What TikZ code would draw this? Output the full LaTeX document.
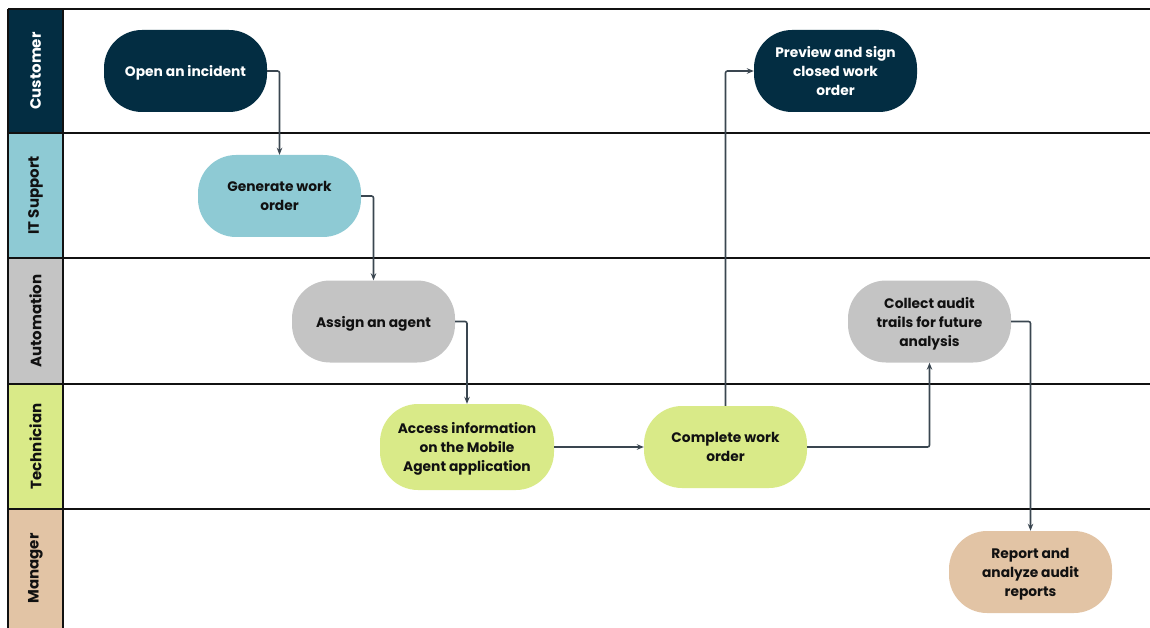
\documentclass[tikz,border=0pt]{standalone}
\usepackage{fontspec}
\setmainfont{Poppins}
\usetikzlibrary{arrows.meta}

\definecolor{custC}{HTML}{032D42}
\definecolor{itC}{HTML}{8ECAD4}
\definecolor{autoC}{HTML}{C4C4C4}
\definecolor{techC}{HTML}{D9EA88}
\definecolor{mgrC}{HTML}{E2C4A5}
\definecolor{flowC}{HTML}{3A4650}
\definecolor{inkC}{HTML}{111111}

\tikzset{
  lanerule/.style={draw=inkC, line width=1.2pt},
  lanelabel/.style={rotate=90, font=\bfseries\fontsize{15}{17}\selectfont, anchor=center},
  stepbox/.style={rectangle, rounded corners=38pt, minimum width=163pt,
    minimum height=82pt, align=center, inner sep=2pt, text depth=0pt,
    font=\bfseries\fontsize{13.8}{19}\selectfont, text=inkC},
  flow/.style={draw=flowC, line width=1.6pt, rounded corners=2pt,
    -{Stealth[length=7pt,width=5.5pt]}}
}

\begin{document}
\begin{tikzpicture}[x=1pt,y=-1pt]
\useasboundingbox (0,0) rectangle (1150,628);

% lane header column
\fill[custC] (8,9) rectangle (63,133);
\fill[itC]   (8,133) rectangle (63,258);
\fill[autoC] (8,258) rectangle (63,384);
\fill[techC] (8,384) rectangle (63,509);
\fill[mgrC]  (8,509) rectangle (63,628);

\node[lanelabel, text=white] (lcust) at (35.5,71)   {Customer};
\node[lanelabel, text=inkC]  (lit)   at (35.5,195.5) {IT Support};
\node[lanelabel, text=inkC]  (lauto) at (35.5,321)  {Automation};
\node[lanelabel, text=inkC]  (ltech) at (35.5,446.5) {Technician};
\node[lanelabel, text=inkC]  (lmgr)  at (35.5,568.5) {Manager};

% lane rules
\foreach \yy in {9,133,258,384,509} {
  \draw[lanerule] (8,\yy) -- (1150,\yy);
}
\draw[lanerule] (8,9) -- (8,628);
\draw[lanerule] (63,9) -- (63,628);

% process steps
\node[stepbox, fill=custC, text=white] (open) at (185.5,71) {Open an incident};
\node[stepbox, fill=itC] (gen) at (279.5,196) {Generate work\\order};
\node[stepbox, fill=autoC] (assign) at (373.5,321.5) {Assign an agent};
\node[stepbox, fill=techC, minimum width=174pt, minimum height=86pt] (access) at (467,447)
  {Access information\\on the Mobile\\Agent application};
\node[stepbox, fill=techC] (complete) at (725.5,447) {Complete work\\order};
\node[stepbox, fill=custC, text=white] (preview) at (835.5,71) {Preview and sign\\closed work\\order};
\node[stepbox, fill=autoC] (collect) at (929.5,321.5) {Collect audit\\trails for future\\analysis};
\node[stepbox, fill=mgrC] (report) at (1030.5,572) {Report and\\analyze audit\\reports};

% flow
\draw[flow] (open.east) -| (gen.north);
\draw[flow] (gen.east) -| (assign.north);
\draw[flow] (assign.east) -| (access.north);
\draw[flow] (access.east) -- (complete.west);
\draw[flow] (complete.north) |- (preview.west);
\draw[flow] (complete.east) -| (collect.south);
\draw[flow] (collect.east) -| (report.north);
\end{tikzpicture}
\end{document}
